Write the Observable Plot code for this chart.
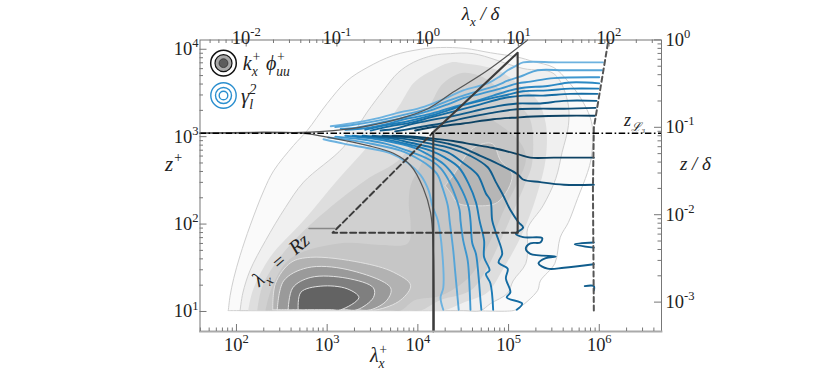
<!DOCTYPE html>
<html><head><meta charset="utf-8">
<script src="https://cdn.jsdelivr.net/npm/d3@7"></script>
<script src="https://cdn.jsdelivr.net/npm/@observablehq/plot@0.6"></script>
<style>html,body{margin:0;padding:0;background:#fff}svg{display:block}
svg text,svg tspan{font-family:"Liberation Serif",serif !important}</style>
</head><body><div id="c"></div>
<script>
// all pairs are [log10(lambda_x^+), log10(z^+)]
const outer1=[[1.91,1.01],[1.93,1.18],[1.97,1.38],[2.04,1.64],[2.15,1.98],[2.30,2.38],[2.41,2.61],[2.63,2.90],[2.78,3.07],[3.00,3.38],[3.22,3.64],[3.44,3.79],[3.73,3.93],[4.03,4.00],[4.25,4.02],[4.52,4.01],[4.80,3.96],[5.10,3.91],[5.27,3.86],[5.50,3.79],[5.65,3.64],[5.79,3.45],[5.90,3.22],[5.93,3.04],[5.91,2.75],[5.87,2.59],[5.76,2.29],[5.66,2.02],[5.57,1.85],[5.51,1.55],[5.35,1.35],[5.32,1.24],[5.10,1.03],[5.05,1.01],[4.5,1.01],[3.5,1.01],[2.5,1.01],[2.0,1.01]];
const outer2=[[2.04,1.01],[2.07,1.21],[2.15,1.47],[2.32,1.81],[2.54,2.19],[2.74,2.48],[3.18,2.88],[3.44,3.28],[3.62,3.53],[3.78,3.73],[3.95,3.85],[4.17,3.93],[4.36,3.95],[4.61,3.95],[5.16,3.78],[5.50,3.72],[5.65,3.41],[5.66,3.13],[5.59,2.82],[5.52,2.52],[5.38,2.21],[5.21,1.95],[5.21,1.78],[5.19,1.55],[5.05,1.35],[4.99,1.21],[4.80,1.09],[4.69,1.01],[4.5,1.01],[3.5,1.01],[2.5,1.01],[2.1,1.01]];
const band3=[[2.13,1.01],[2.18,1.24],[2.37,1.62],[2.74,2.04],[3.11,2.50],[3.44,2.88],[3.64,3.13],[3.81,3.38],[3.95,3.61],[4.11,3.73],[4.36,3.85],[4.50,3.84],[4.88,3.76],[5.16,3.56],[5.32,3.41],[5.41,3.15],[5.41,2.75],[5.32,2.36],[5.22,2.06],[5.10,1.78],[4.93,1.47],[4.77,1.22],[4.50,1.10],[4.28,1.01],[4.1,1.01],[3.3,1.01],[2.5,1.01],[2.2,1.01]];
const band4=[[2.23,1.01],[2.29,1.30],[2.54,1.70],[2.93,2.10],[3.42,2.50],[3.81,2.75],[3.97,3.01],[4.16,3.41],[4.28,3.61],[4.50,3.73],[4.72,3.68],[4.88,3.56],[5.10,3.38],[5.24,3.19],[5.26,2.70],[5.19,2.48],[5.08,2.21],[4.91,1.81],[4.75,1.47],[4.58,1.24],[4.25,1.13],[4.03,1.01],[3.9,1.01],[3.1,1.01],[2.5,1.01],[2.3,1.01]];
const band5=[[2.32,1.01],[2.40,1.30],[2.60,1.61],[3.15,1.78],[3.59,1.76],[3.89,1.78],[3.92,2.01],[3.90,2.21],[3.92,2.44],[4.03,2.67],[4.16,2.96],[4.30,3.19],[4.58,3.30],[4.91,3.13],[5.15,2.90],[5.19,2.73],[5.11,2.50],[4.97,2.21],[4.80,1.81],[4.58,1.41],[4.25,1.18],[3.97,1.13],[3.81,1.01],[3.7,1.01],[3.0,1.01],[2.4,1.01]];
const upperBlob=[[4.30,2.44],[4.39,2.56],[4.61,2.87],[4.82,2.92],[4.91,2.73],[5.04,2.56],[4.88,2.25],[4.61,2.21],[4.44,2.24],[4.36,2.36]];
const blob0=[[2.40,1.02],[2.43,1.32],[2.60,1.56],[2.82,1.62],[3.37,1.56],[3.73,1.45],[3.92,1.30],[3.81,1.13],[3.55,1.02],[3.4,1.02],[2.9,1.02],[2.5,1.02]];
const blob1=[[2.45,1.02],[2.52,1.35],[2.78,1.50],[3.22,1.48],[3.70,1.27],[3.66,1.13],[3.48,1.02],[3.3,1.02],[2.9,1.02],[2.55,1.02]];
const blob2=[[2.57,1.02],[2.62,1.27],[2.82,1.39],[3.22,1.38],[3.51,1.27],[3.51,1.16],[3.33,1.02],[3.2,1.02],[2.9,1.02],[2.65,1.02]];
const blob3=[[2.68,1.02],[2.71,1.22],[2.93,1.29],[3.22,1.26],[3.35,1.16],[3.15,1.02],[3.05,1.02],[2.9,1.02],[2.75,1.02]];
const gapBand=[[3.20,3.07],[3.33,3.10],[3.55,3.09],[3.86,3.11],[4.17,3.12],[4.17,3.00],[3.86,2.98],[3.62,2.98],[3.26,3.01]];

const up1=[[6.04,3.85],[5.54,3.85],[5.16,3.85],[5.08,3.81],[4.99,3.76],[4.89,3.68],[4.77,3.61],[4.50,3.53],[4.33,3.45],[4.17,3.38],[4.00,3.32],[3.81,3.28],[3.55,3.21],[3.26,3.15],[3.04,3.12]];
const up2=[[6.03,3.76],[5.61,3.76],[5.32,3.76],[5.16,3.70],[4.99,3.64],[4.88,3.59],[4.69,3.53],[4.50,3.47],[4.33,3.41],[4.14,3.33],[3.81,3.24],[3.55,3.18],[3.26,3.13],[3.09,3.11]];
const up3=[[6.00,3.68],[5.50,3.67],[5.24,3.63],[5.10,3.61],[4.91,3.55],[4.69,3.49],[4.50,3.44],[4.33,3.37],[4.14,3.30],[3.86,3.22],[3.59,3.16],[3.31,3.10],[3.15,3.09]];
const up4=[[6.00,3.61],[5.68,3.62],[5.43,3.58],[5.16,3.56],[5.02,3.53],[4.83,3.47],[4.58,3.39],[4.36,3.33],[4.14,3.26],[3.86,3.20],[3.64,3.14],[3.37,3.09],[3.20,3.08]];
const up5=[[5.99,3.55],[5.68,3.55],[5.43,3.53],[5.16,3.52],[4.99,3.48],[4.77,3.43],[4.50,3.36],[4.33,3.30],[4.14,3.24],[3.86,3.17],[3.64,3.13],[3.42,3.08]];
const up6=[[5.98,3.49],[5.68,3.49],[5.38,3.47],[5.16,3.47],[4.94,3.44],[4.69,3.37],[4.44,3.30],[4.14,3.22],[3.92,3.16],[3.70,3.12],[3.48,3.07]];
const up7=[[5.97,3.41],[5.61,3.41],[5.35,3.38],[5.10,3.38],[4.88,3.35],[4.61,3.29],[4.36,3.23],[4.14,3.19],[3.92,3.14],[3.75,3.09],[3.59,3.07]];
const up8=[[5.96,3.33],[5.61,3.32],[5.32,3.32],[5.05,3.31],[4.80,3.27],[4.50,3.21],[4.25,3.15],[4.14,3.13],[3.92,3.09],[3.75,3.06]];
const up9=[[5.95,3.24],[5.61,3.24],[5.27,3.23],[5.10,3.22],[4.83,3.20],[4.50,3.15],[4.25,3.12],[4.17,3.11],[3.97,3.07]];

const low1=[[5.94,2.76],[5.50,2.76],[5.24,2.76],[5.10,2.80],[4.83,2.87],[4.61,2.91],[4.39,2.95],[4.14,2.98],[3.97,3.00],[3.72,3.01]];
const low2=[[5.94,2.45],[5.61,2.45],[5.35,2.48],[5.16,2.51],[5.10,2.57],[4.88,2.69],[4.69,2.78],[4.50,2.87],[4.33,2.92],[4.14,2.96],[3.92,2.99],[3.61,3.01]];
const low3=[[3.50,3.01],[3.81,2.98],[4.14,2.92],[4.36,2.87],[4.58,2.78],[4.77,2.65],[4.86,2.48],[4.93,2.35],[5.02,2.16],[5.11,2.02],[5.16,1.96],[5.08,1.89],[5.16,1.85],[5.37,1.84],[5.35,1.79],[5.24,1.78],[5.19,1.72],[5.24,1.66],[5.52,1.63],[5.41,1.61],[5.33,1.55],[5.43,1.49],[5.61,1.50],[5.94,1.54]];
const low3wedge=[[5.94,1.79],[5.73,1.77],[5.94,1.73]];
const low3stub=[[5.84,1.29],[5.94,1.29],[5.94,1.24]];
const low4=[[3.39,3.01],[3.70,2.98],[3.92,2.93],[4.14,2.88],[4.33,2.82],[4.50,2.70],[4.66,2.56],[4.75,2.35],[4.80,2.27],[4.82,2.04],[4.86,1.90],[4.93,1.66],[4.89,1.56],[4.99,1.49],[4.97,1.38],[5.02,1.22],[4.98,1.16],[5.15,1.09],[5.09,1.02]];
const low5=[[3.28,3.01],[3.59,2.98],[3.86,2.92],[4.14,2.84],[4.30,2.76],[4.45,2.65],[4.56,2.46],[4.64,2.25],[4.68,2.04],[4.73,1.81],[4.73,1.62],[4.79,1.47],[4.75,1.43],[4.80,1.32],[4.83,1.02]];
const low6=[[3.20,3.01],[3.48,2.98],[3.75,2.93],[3.97,2.87],[4.14,2.78],[4.28,2.69],[4.39,2.56],[4.49,2.38],[4.56,2.19],[4.58,2.04],[4.60,1.78],[4.64,1.66],[4.67,1.39],[4.69,1.13],[4.70,1.02]];
const low7=[[3.09,3.00],[3.37,2.97],[3.64,2.92],[3.86,2.85],[4.14,2.73],[4.25,2.64],[4.34,2.50],[4.41,2.33],[4.46,2.16],[4.47,2.04],[4.50,1.81],[4.55,1.58],[4.57,1.27],[4.58,1.02]];
const low8=[[3.01,2.99],[3.26,2.96],[3.53,2.91],[3.81,2.84],[4.03,2.73],[4.14,2.65],[4.22,2.56],[4.27,2.42],[4.33,2.21],[4.35,2.04],[4.39,1.70],[4.41,1.47],[4.45,1.02]];
const low9=[[2.96,2.97],[3.18,2.92],[3.44,2.87],[3.70,2.81],[3.89,2.70],[4.03,2.56],[4.12,2.38],[4.16,2.21],[4.22,2.04],[4.27,1.66],[4.28,1.27],[4.25,1.16],[4.28,1.02]];

const blues=["#6db2df","#56a5d8","#3f97cf","#2b89c4","#1c7bb6","#146ca3","#105d8d","#0e4f78","#0d4263"];

const thinLower=[[1.60,3.04],[2.71,3.04],[3.07,2.98],[3.44,2.90],[3.73,2.81],[3.92,2.67],[4.06,2.41],[4.14,2.13],[4.17,1.73],[4.18,0.771]];
const thinUpper=[[1.60,3.04],[2.71,3.05],[3.07,3.07],[3.44,3.12],[3.81,3.21],[4.11,3.32],[4.39,3.51],[4.77,3.76],[5.21,4.106]];
const thickPath=[[4.17,0.771],[4.17,3.05],[5.10,3.96],[5.10,1.90]];
const dashPath=[[5.10,1.90],[3.06,1.90],[4.17,3.05]];
const dashRight=[[5.94,1.01],[5.93,2.40],[5.94,3.10],[6.10,4.10]];
const zL3=3.04;
const shortRule=[[2.80,1.95],[3.09,1.95]];

const Re=12800;
const bottomTicks=[1e2,1e3,1e4,1e5,1e6];
const leftTicks=[1e1,1e2,1e3,1e4];
const topTicks=[0.01,0.1,1,10,100];
const rightTicks=[1,0.1,0.01,0.001];
const minors=[2,3,4,5,6,7,8,9];
const ringRadii=[12.7,8,4.3];

const xDom=[10**1.598,10**6.686], yDom=[10**0.771,10**4.106];
const inDom=(v,d)=>v>=d[0]*0.999&&v<=d[1]*1.001;
const xMinor=[],yMinor=[],tMinor=[],rMinor=[];
for(let e=1;e<7;e++)for(const m of minors){const v=m*10**e;if(inDom(v,xDom))xMinor.push(v);if(inDom(v,yDom))yMinor.push(v);}
for(let e=-3;e<3;e++)for(const m of minors){const v=m*10**e*Re;if(inDom(v,xDom))tMinor.push(v);if(inDom(v,yDom))rMinor.push(v);}

const W=830,H=374,mL=199.5,mR=169,mT=39.5,mB=43;
const fw=W-mL-mR,fh=H-mT-mB;
const px=d=>10**d[0],py=d=>10**d[1];
const closed=a=>[...a,a[0]];
const poly=(a,fill,stroke,curve="catmull-rom",sw=1)=>Plot.line(closed(a),{x:px,y:py,fill,stroke,strokeWidth:sw,curve});
const path=(a,stroke,sw,extra={})=>Plot.line(a,{x:px,y:py,stroke,strokeWidth:sw,curve:"linear",...extra});
const blue=(a,i)=>Plot.line(a,{x:px,y:py,stroke:blues[i],strokeWidth:1.9,curve:"catmull-rom"});
const exp=d=>`10^{${Math.round(Math.log10(d))}}`;
const sizes={};
const label=(t,x,y,fs=19,o={})=>{sizes[t]=fs;return Plot.text([t],{x:()=>10**x,y:()=>10**y,text:d=>d,fontStyle:"italic",fill:"#222",...o});};
const tickC="#777";
const tf={fill:"#222"};

const chart=Plot.plot({
  width:W,height:H,marginLeft:mL,marginRight:mR,marginTop:mT,marginBottom:mB,
  style:{background:"#fff"},
  x:{type:"log",domain:xDom,axis:null},y:{type:"log",domain:yDom,axis:null},
  marks:[
    poly(outer1,"#fafafa","#cfcfcf"),
    poly(outer2,"#f0f0f0","#cfcfcf"),
    poly(band3,"#dedede","none"),
    poly(band4,"#d0d0d0","none"),
    poly(band5,"#c6c6c6","none"),
    poly(upperBlob,"#b6b6b6","#dcdcdc"),
    poly(blob0,"#b2b2b2","#e2e2e2"),
    poly(blob1,"#9a9a9a","#e2e2e2"),
    poly(blob2,"#7f7f7f","#e2e2e2"),
    poly(blob3,"#636363","#e2e2e2"),
    poly(gapBand,"#f3f3f3","none","linear"),
    blue(up1,0),blue(up2,1),blue(up3,2),blue(up4,3),blue(up5,4),blue(up6,5),blue(up7,6),blue(up8,7),blue(up9,8),
    blue(low9,0),blue(low8,1),blue(low7,2),blue(low6,3),blue(low5,4),blue(low4,5),
    blue(low3,6),blue(low3wedge,6),blue(low3stub,6),blue(low2,7),blue(low1,8),
    path(thinLower,"#555",1.2,{curve:"catmull-rom"}),
    path(thinUpper,"#555",1.2,{curve:"catmull-rom"}),
    path(thickPath,"#3c3c3c",2.1),
    path(dashPath,"#3c3c3c",2,{strokeDasharray:"6,3.5"}),
    path(dashRight,"#555",2,{strokeDasharray:"5,3.5"}),
    Plot.ruleY([10**zL3],{stroke:"#000",strokeWidth:1.5,strokeDasharray:"6.5,2.5,1.6,2.5"}),
    path(shortRule,"#888",1.5),
    Plot.frame({stroke:"#777",strokeWidth:1}),
    Plot.frame({anchor:"bottom",stroke:"#aaa",strokeWidth:1.8}),
    Plot.tickX(bottomTicks,{stroke:tickC,insetTop:fh-7}),
    Plot.tickX(xMinor,{stroke:tickC,insetTop:fh-3.5}),
    Plot.tickX(topTicks.map(d=>d*Re),{stroke:tickC,insetBottom:fh-7}),
    Plot.tickX(tMinor,{stroke:tickC,insetBottom:fh-3.5}),
    Plot.tickY(leftTicks,{stroke:tickC,insetRight:fw-7}),
    Plot.tickY(yMinor,{stroke:tickC,insetRight:fw-3.5}),
    Plot.tickY(rightTicks.map(d=>d*Re),{stroke:tickC,insetLeft:fw-7}),
    Plot.tickY(rMinor,{stroke:tickC,insetLeft:fw-3.5}),
    Plot.text(bottomTicks,{x:d=>d,frameAnchor:"bottom",dy:19,text:exp,...tf}),
    Plot.text(topTicks,{x:d=>d*Re,frameAnchor:"top",dy:-9,text:exp,...tf}),
    Plot.text(leftTicks,{y:d=>d,frameAnchor:"left",dx:-1.5,textAnchor:"end",text:exp,...tf}),
    Plot.text(rightTicks,{y:d=>d*Re,frameAnchor:"right",dx:4,textAnchor:"start",text:exp,...tf}),
    Plot.dot([0],{x:()=>10**1.857,y:()=>10**3.841,r:12.8,fill:"#fff",stroke:"#111",strokeWidth:1.5}),
    Plot.dot([0],{x:()=>10**1.857,y:()=>10**3.841,r:8.5,fill:"#a8a8a8",stroke:"#111",strokeWidth:1.2}),
    Plot.dot([0],{x:()=>10**1.857,y:()=>10**3.841,r:4.4,fill:"#5c5c5c",stroke:"#333",strokeWidth:0.8}),
    ...ringRadii.map(r=>Plot.dot([0],{x:()=>10**1.857,y:()=>10**3.471,r,stroke:"#2b8fcf",strokeWidth:1.4,fill:"none"})),
    label("k_{x}^{+} ϕ_{uu}^{+}",2.07,3.84,20,{textAnchor:"start"}),
    label("γ_{l}^{2}",2.05,3.46,21,{textAnchor:"start"}),
    label("λ_{x}^{+}",3.57,0.49,20),
    label("λ_{x} / δ",4.69,4.40,19),
    label("z^{+}",1.31,2.69,21),
    label("z / δ",7.06,2.69,19),
    label("z_{ℒ₃}",6.39,3.19,18),
    label("λ_{x}  =  Rz",2.49,1.59,20,{rotate:-41})
  ]
});
document.getElementById("c").appendChild(chart);
// typeset _{..} and ^{..} as sized, shifted runs of the same text element
const NS="http://www.w3.org/2000/svg";
chart.querySelectorAll("text").forEach(t=>{
  const s=t.textContent;
  const fs=sizes[s]||18.5;
  t.style.fontSize=fs+"px";
  if(!/[_^]\{/.test(s))return;
  t.textContent="";
  let cur=0,lastScript=null;
  for(const tok of s.match(/_\{[^}]*\}|\^\{[^}]*\}|[^_^]+/g)){
    const sp=document.createElementNS(NS,"tspan");
    let target=0,body=tok;
    if(tok[0]==="_"){target=0.3*fs;body=tok.slice(2,-1);sp.style.fontSize=0.68*fs+"px";}
    else if(tok[0]==="^"){target=-0.42*fs;body=tok.slice(2,-1);sp.style.fontSize=0.68*fs+"px";}
    sp.setAttribute("dy",target-cur);cur=target;
    sp.textContent=body;t.appendChild(sp);
    if(tok[0]==="^"&&lastScript){sp.setAttribute("dx",-lastScript.getComputedTextLength());}
    lastScript=tok[0]==="_"?sp:null;
  }
});
</script></body></html>
